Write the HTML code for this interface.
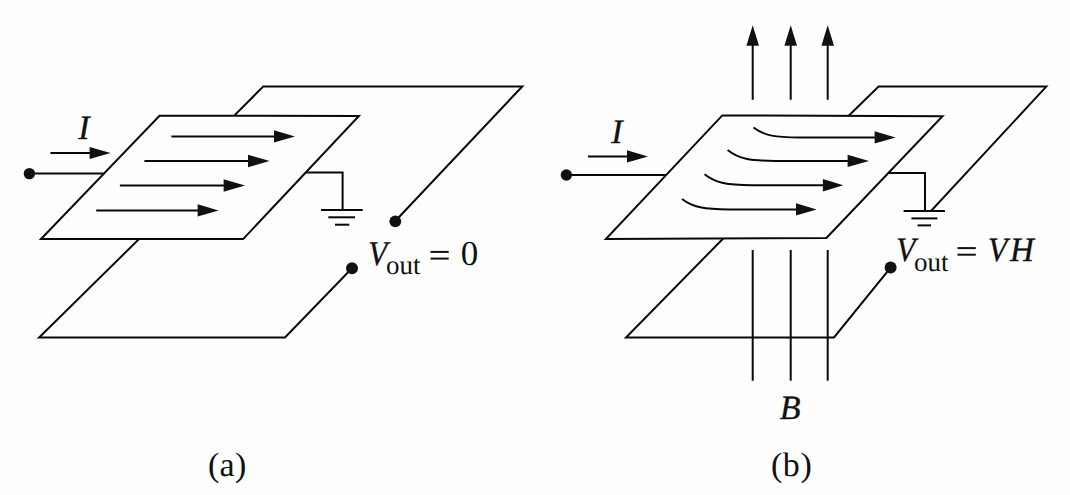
<!DOCTYPE html>
<html>
<head>
<meta charset="utf-8">
<style>
html,body{margin:0;padding:0;background:#fefefe;}
body{width:1070px;height:495px;overflow:hidden;}
svg{display:block;}
text{font-family:"Liberation Serif",serif;fill:#111;text-rendering:geometricPrecision;}
.it{font-style:italic;stroke:#111;stroke-width:0.35px;}
</style>
</head>
<body>
<svg width="1070" height="495" viewBox="0 0 1070 495">
<rect width="1070" height="495" fill="#fefefe"/>
<g fill="none" stroke="#080808" stroke-width="2" stroke-linejoin="miter" stroke-linecap="butt">
  <!-- ===== Panel (a) ===== -->
  <!-- back plate -->
  <polyline points="215.6,134.4 263.3,86.4 522.3,86.4 395.3,221"/>
  <!-- bottom plate -->
  <polyline points="161.4,217 39.1,337.5 285,337.5 352,268.3"/>
  <!-- top plate -->
  <polygon points="159.5,115.8 358.9,115.9 243.1,239.1 41,239.1" fill="#fefefe"/>
  <!-- input wire -->
  <line x1="29.4" y1="173.6" x2="104.3" y2="173.6"/>
  <!-- I arrow shaft -->
  <line x1="50.4" y1="153" x2="92" y2="153"/>
  <!-- plate arrows shafts -->
  <line x1="171.4" y1="136.4" x2="276" y2="136.4"/>
  <line x1="144.4" y1="161" x2="250" y2="161"/>
  <line x1="119.9" y1="185.5" x2="225" y2="185.5"/>
  <line x1="96.2" y1="210.4" x2="199" y2="210.4"/>
  <!-- ground -->
  <polyline points="305.6,172.5 342.6,172.5 342.6,210"/>
  <line x1="321" y1="210" x2="362.7" y2="210"/>
  <line x1="328.3" y1="217.3" x2="355" y2="217.3"/>
  <line x1="335" y1="224.7" x2="349.3" y2="224.7"/>

  <!-- ===== Panel (b) ===== -->
  <!-- B lines upper -->
  <line x1="752.7" y1="44" x2="752.7" y2="99.8"/>
  <line x1="790.7" y1="44" x2="790.7" y2="99.8"/>
  <line x1="827.7" y1="44" x2="827.7" y2="99.8"/>
  <!-- back plate -->
  <polyline points="830,134 878.6,86.6 1046.3,86.6 931,211"/>
  <!-- bottom plate -->
  <polyline points="745.3,216 626,337.5 834,337.5 890.6,267.6"/>
  <!-- top plate -->
  <polygon points="722.3,115.4 942.5,116.3 826.4,237.9 605.9,239.1" fill="#fefefe"/>
  <!-- input wire -->
  <line x1="566.4" y1="175" x2="666.2" y2="175"/>
  <line x1="588" y1="156.4" x2="629" y2="156.4"/>
  <!-- curved arrows -->
  <path d="M753.5,127.5 C765,136 775,137.4 800,137.4 L876,137.4"/>
  <path d="M727.6,150 C739,159 750,160.9 775,160.9 L849,160.9"/>
  <path d="M704.5,174.3 C716,183.2 727,185.2 752,185.2 L824,185.2"/>
  <path d="M682,199 C693,207.4 704,209.4 729,209.4 L797,209.4"/>
  <!-- ground -->
  <polyline points="888.3,173 925,173 925,211"/>
  <line x1="903.6" y1="211" x2="945" y2="211"/>
  <line x1="911.4" y1="218.4" x2="937.4" y2="218.4"/>
  <line x1="917.6" y1="225.4" x2="931" y2="225.4"/>
  <!-- B lines lower -->
  <line x1="752.7" y1="250" x2="752.7" y2="380.7"/>
  <line x1="790.7" y1="250" x2="790.7" y2="380.7"/>
  <line x1="827.7" y1="250" x2="827.7" y2="380.7"/>
</g>
<g fill="#111" stroke="none">
  <!-- dots -->
  <circle cx="29.4" cy="173.6" r="5.7"/>
  <circle cx="395.3" cy="221.3" r="5.9"/>
  <circle cx="352" cy="268.3" r="6"/>
  <circle cx="566.4" cy="175" r="5.7"/>
  <circle cx="890.6" cy="267.6" r="6"/>
  <!-- arrowheads (a) -->
  <polygon points="89.6,147 110.6,153 89.6,159"/>
  <polygon points="274,130.2 295,136.4 274,142.6"/>
  <polygon points="248,154.8 269.6,161 248,167.2"/>
  <polygon points="223.6,179.3 245,185.5 223.6,191.7"/>
  <polygon points="197.6,204.2 218.6,210.4 197.6,216.6"/>
  <!-- arrowheads (b) -->
  <polygon points="627,150.2 648,156.4 627,162.6"/>
  <polygon points="874.6,131.2 895.6,137.4 874.6,143.6"/>
  <polygon points="847.6,154.7 869,160.9 847.6,167.1"/>
  <polygon points="822.9,179 843.3,185.2 822.9,191.4"/>
  <polygon points="796,203.2 816.6,209.4 796,215.6"/>
  <!-- B arrowheads -->
  <polygon points="746.4,45.7 752.7,25.2 759,45.7"/>
  <polygon points="784.4,45.7 790.7,25.2 797,45.7"/>
  <polygon points="821.4,45.7 827.7,25.2 834,45.7"/>
</g>
<!-- text -->
<g font-size="34">
<text class="it" transform="translate(78.3,139.3)">I</text>
<text class="it" transform="translate(368.2,264.9) scale(0.92,1.027)">V</text>
<text transform="translate(386,274.1)" font-size="27">out</text>
<text x="460.7" y="265.2" font-size="35">0</text>
<text x="207.9" y="475.5" letter-spacing="0.4">(a)</text>
<text class="it" transform="translate(611.2,142.6)">I</text>
<text class="it" transform="translate(896.2,261.1) scale(0.92,1)">V</text>
<text transform="translate(914,270.9)" font-size="27">out</text>
<text class="it" transform="translate(988,260.8) scale(0.93,1)">V</text>
<text class="it" transform="translate(1009.9,260.8) scale(0.97,1)">H</text>
<text class="it" transform="translate(779.8,418.9)">B</text>
<text x="770.9" y="475.8" letter-spacing="0.6">(b)</text>
</g>
<g stroke="#111" stroke-width="2" fill="none">
<line x1="430.5" y1="251.9" x2="448.7" y2="251.9"/>
<line x1="430.5" y1="258.6" x2="448.7" y2="258.6"/>
<line x1="957.5" y1="248.1" x2="975.8" y2="248.1"/>
<line x1="957.5" y1="254.7" x2="975.8" y2="254.7"/>
</g>
</svg>
</body>
</html>
